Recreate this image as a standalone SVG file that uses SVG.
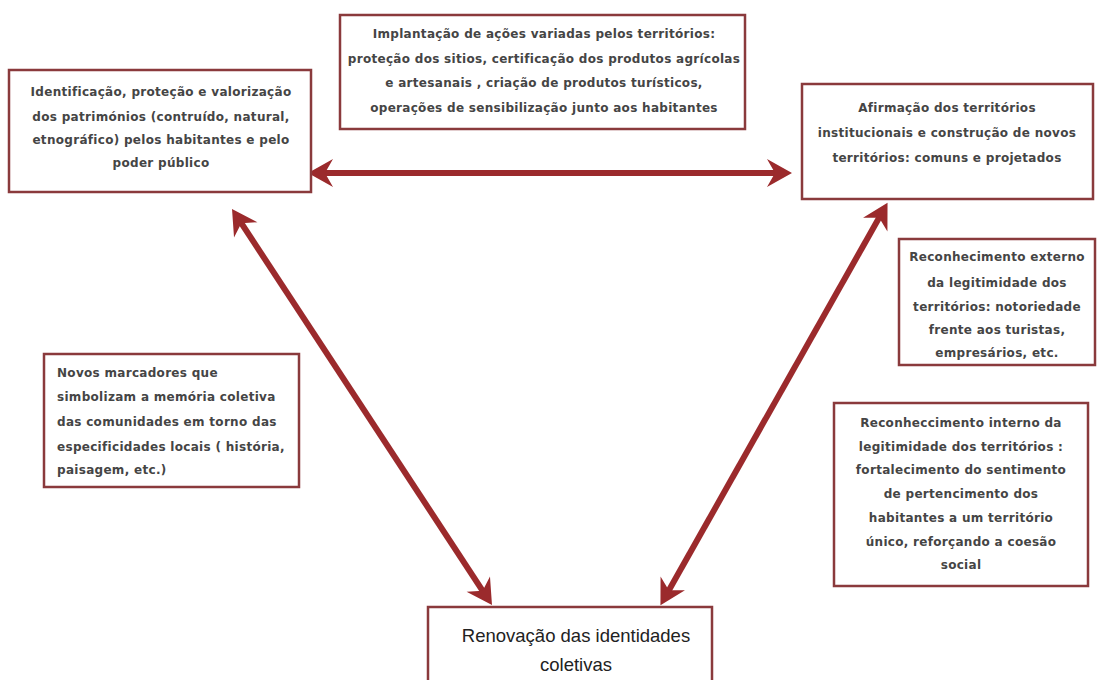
<svg xmlns="http://www.w3.org/2000/svg" width="1097" height="680" viewBox="0 0 1097 680">
<style>
.box{fill:#ffffff;stroke:#8a3a3c;stroke-width:2.5}
.t{font-family:"DejaVu Sans","Liberation Sans",sans-serif;font-size:12px;font-weight:bold;letter-spacing:0.3px;fill:#454545}
.c{text-anchor:middle}
.big{font-family:"Liberation Sans","DejaVu Sans",sans-serif;font-size:18.5px;fill:#222222;text-anchor:middle}
.arr{fill:none;stroke:#9b2a2c;stroke-width:6;marker-start:url(#ah);marker-end:url(#ah)}
</style>
<defs>
<marker id="ah" markerUnits="userSpaceOnUse" viewBox="-28 -15 30 30" refX="-8" refY="0" markerWidth="30" markerHeight="30" orient="auto-start-reverse">
<path d="M0,0 L-25,-14 L-17,0 L-25,14 Z" fill="#9b2a2c"/>
</marker>
</defs>
<rect x="0" y="0" width="1097" height="680" fill="#ffffff"/>
<g id="connectors">
<path class="arr" d="M316,173 L784,173"/>
<path class="arr" d="M236.4,215.7 L487.6,598.3"/>
<path class="arr" d="M883.6,209.8 L664.4,598.2"/>
</g>
<g id="n1">
<rect class="box" x="9" y="70" width="302" height="122"/>
<text class="t c" x="161" y="96">Identificação, proteção e valorização</text>
<text class="t c" x="161" y="121">dos patrimónios (contruído, natural,</text>
<text class="t c" x="161" y="144">etnográfico) pelos habitantes e pelo</text>
<text class="t c" x="161" y="167">poder público</text>
</g>
<g id="n2">
<rect class="box" x="340" y="15" width="405" height="114"/>
<text class="t c" x="544" y="38">Implantação de ações variadas pelos territórios:</text>
<text class="t c" x="544" y="63">proteção dos sitios, certificação dos produtos agrícolas</text>
<text class="t c" x="544" y="87">e artesanais , criação de produtos turísticos,</text>
<text class="t c" x="544" y="112">operações de sensibilização junto aos habitantes</text>
</g>
<g id="n3">
<rect class="box" x="802" y="84" width="291" height="115"/>
<text class="t c" x="947" y="112">Afirmação dos territórios</text>
<text class="t c" x="947" y="137">institucionais e construção de novos</text>
<text class="t c" x="947" y="162">territórios: comuns e projetados</text>
</g>
<g id="n4">
<rect class="box" x="899" y="239" width="196" height="126"/>
<text class="t c" x="997" y="261">Reconhecimento externo</text>
<text class="t c" x="997" y="287">da legitimidade dos</text>
<text class="t c" x="997" y="311">territórios: notoriedade</text>
<text class="t c" x="997" y="334">frente aos turistas,</text>
<text class="t c" x="997" y="357">empresários, etc.</text>
</g>
<g id="n5">
<rect class="box" x="44" y="354" width="255" height="133"/>
<text class="t" x="57" y="377">Novos marcadores que</text>
<text class="t" x="57" y="401">simbolizam a memória coletiva</text>
<text class="t" x="57" y="426">das comunidades em torno das</text>
<text class="t" x="57" y="451">especificidades locais ( história,</text>
<text class="t" x="57" y="474">paisagem, etc.)</text>
</g>
<g id="n6">
<rect class="box" x="834" y="403" width="254" height="183"/>
<text class="t c" x="961" y="427">Reconheccimento interno da</text>
<text class="t c" x="961" y="451">legitimidade dos territórios :</text>
<text class="t c" x="961" y="474">fortalecimento do sentimento</text>
<text class="t c" x="961" y="498">de pertencimento dos</text>
<text class="t c" x="961" y="522">habitantes a um território</text>
<text class="t c" x="961" y="546">único, reforçando a coesão</text>
<text class="t c" x="961" y="569">social</text>
</g>
<g id="n7">
<rect class="box" x="428" y="607" width="284" height="90"/>
<text class="big" x="576" y="642">Renovação das identidades</text>
<text class="big" x="576" y="671">coletivas</text>
</g>
</svg>
